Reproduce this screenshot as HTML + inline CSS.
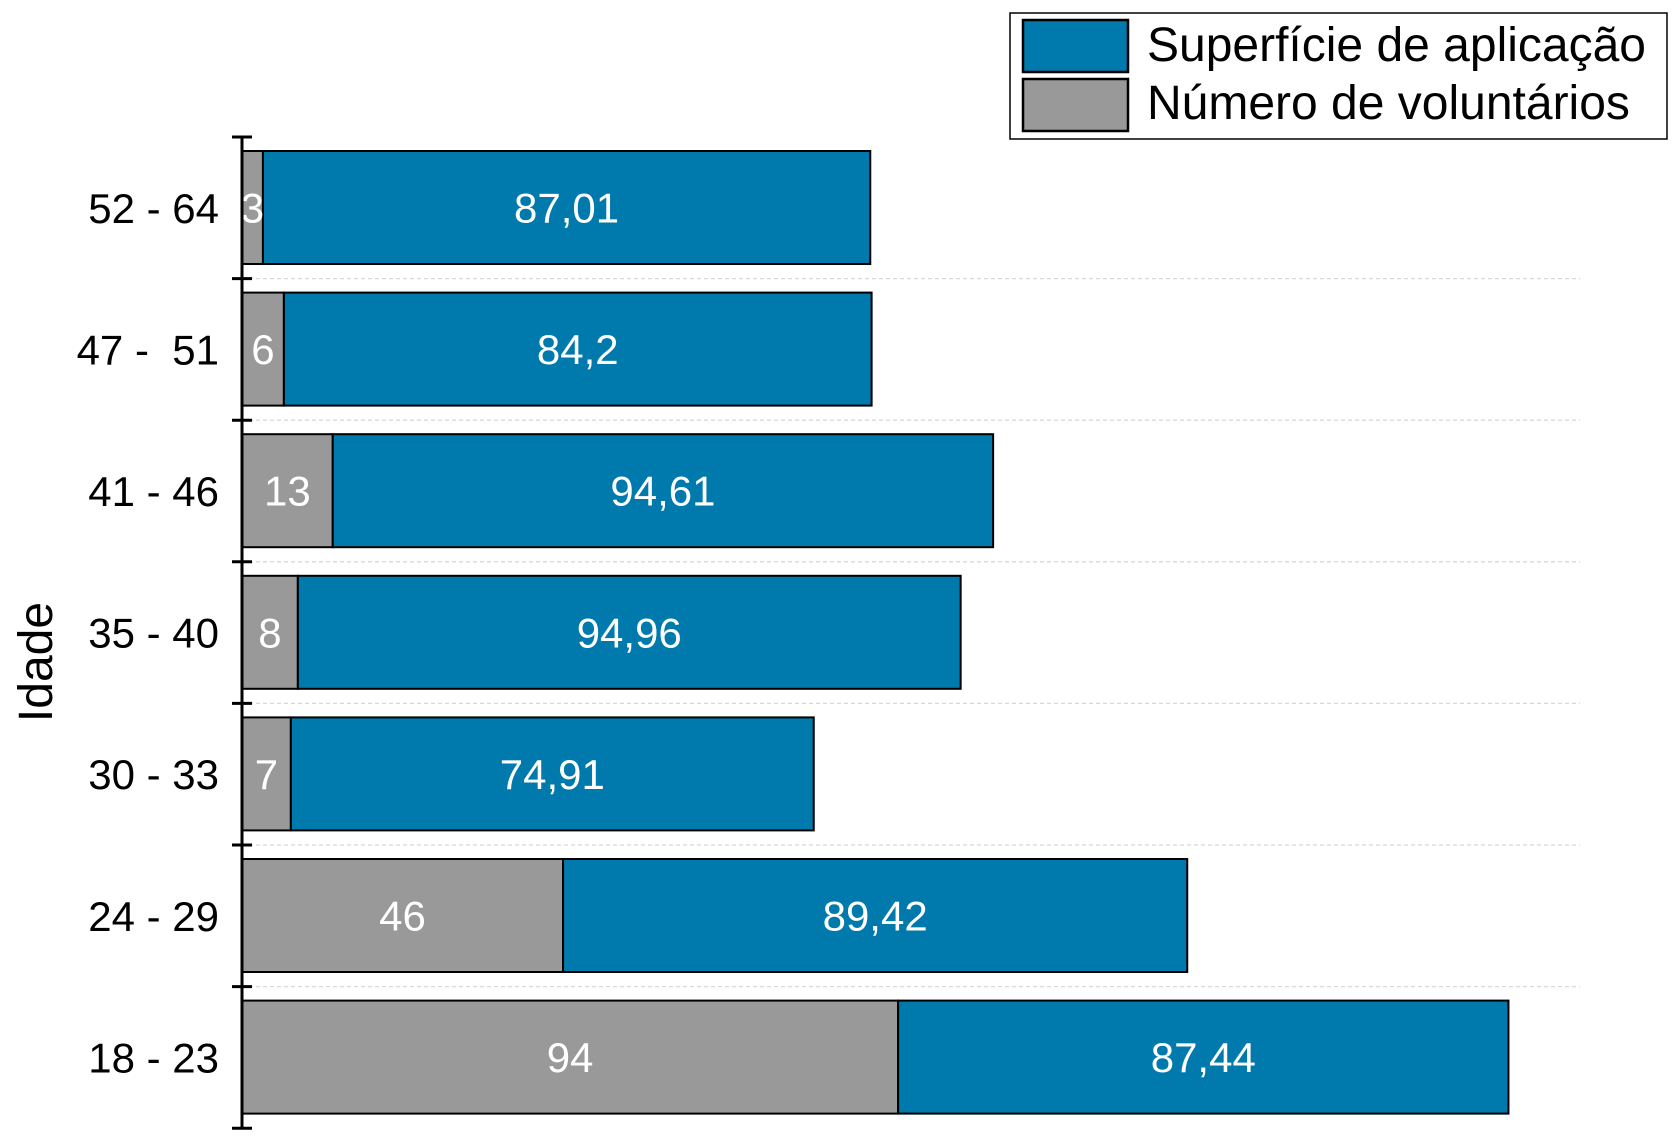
<!DOCTYPE html>
<html><head><meta charset="utf-8"><style>
html,body{margin:0;padding:0;background:#fff;}
svg{display:block;font-family:"Liberation Sans",Arial,sans-serif;}
</style></head><body>
<svg id="chart" width="1678" height="1137" viewBox="0 0 1678 1137">
<g id="grid"></g>
<g id="bars"></g>
<g id="axis"></g>
<text transform="translate(52,662) rotate(-90)" text-anchor="middle" font-size="48" fill="#000">Idade</text>
<g>
<rect x="1010" y="13" width="657" height="126" fill="#fff" stroke="#000" stroke-width="1.5"/>
<rect x="1023" y="20" width="105" height="52" fill="#0079ad" stroke="#000" stroke-width="2.5"/>
<rect x="1023" y="79" width="105" height="52" fill="#999" stroke="#000" stroke-width="2.5"/>
<text x="1147" y="61" font-size="48" fill="#000">Superfície de aplicação</text>
<text x="1147" y="119" font-size="48" fill="#000">Número de voluntários</text>
</g>
</svg>
<script>
const categories = ["18 - 23","24 - 29","30 - 33","35 - 40","41 - 46","47 -\u00a0 51","52 - 64"];
const voluntarios = [94,46,7,8,13,6,3];
const superficie = [87.44,89.42,74.91,94.96,94.61,84.2,87.01];
const superficieLabels = ["87,44","89,42","74,91","94,96","94,61","84,2","87,01"];

const NS="http://www.w3.org/2000/svg";
const x0=242, unit=6.98, topY=137, rowH=141.6, barPad=14, barH=113;
const n=categories.length;
function xs(v){return x0+v*unit;}
function rowTop(i){return topY+(n-1-i)*rowH;}
function mk(tag,attrs,parent){const e=document.createElementNS(NS,tag);for(const k in attrs)e.setAttribute(k,attrs[k]);parent.appendChild(e);return e;}
const gGrid=document.getElementById('grid'),gBars=document.getElementById('bars'),gAxis=document.getElementById('axis');
for(let k=1;k<n;k++){
  const y=topY+k*rowH;
  const l=mk('line',{x1:x0,x2:1580,y1:y,y2:y,stroke:'#d8d8d8','stroke-width':1.3,'stroke-dasharray':'4,3'},gGrid);
  
  
}
for(let i=0;i<n;i++){
  const y=rowTop(i)+barPad;
  const g=xs(0), gEnd=xs(voluntarios[i]), bEnd=xs(voluntarios[i]+superficie[i]);
  const r1=mk('rect',{x:g,y:y,width:gEnd-g,height:barH,fill:'#999',stroke:'#000','stroke-width':2},gBars);
  
  
  const r2=mk('rect',{x:gEnd,y:y,width:bEnd-gEnd,height:barH,fill:'#0079ad',stroke:'#000','stroke-width':2},gBars);
  
  
  const t1=mk('text',{x:(g+gEnd)/2,y:y+barH/2+15,'text-anchor':'middle','font-size':42,fill:'#fff'},gBars);
  t1.textContent=String(voluntarios[i]);
  
  
  const t2=mk('text',{x:(gEnd+bEnd)/2,y:y+barH/2+15,'text-anchor':'middle','font-size':42,fill:'#fff'},gBars);
  t2.textContent=superficieLabels[i];
  
  
  const tl=mk('text',{x:219,y:rowTop(i)+rowH/2+15,'text-anchor':'end','font-size':42,fill:'#000'},gAxis);
  tl.textContent=categories[i];
  
  
}
mk('line',{x1:x0,x2:x0,y1:topY,y2:topY+n*rowH,stroke:'#000','stroke-width':3},gAxis);
for(let k=0;k<=n;k++){
  const y=topY+k*rowH;
  const t=mk('line',{x1:x0-10,x2:x0+10,y1:y,y2:y,stroke:'#000','stroke-width':3},gAxis);
  
  
}
</script>
</body></html>
